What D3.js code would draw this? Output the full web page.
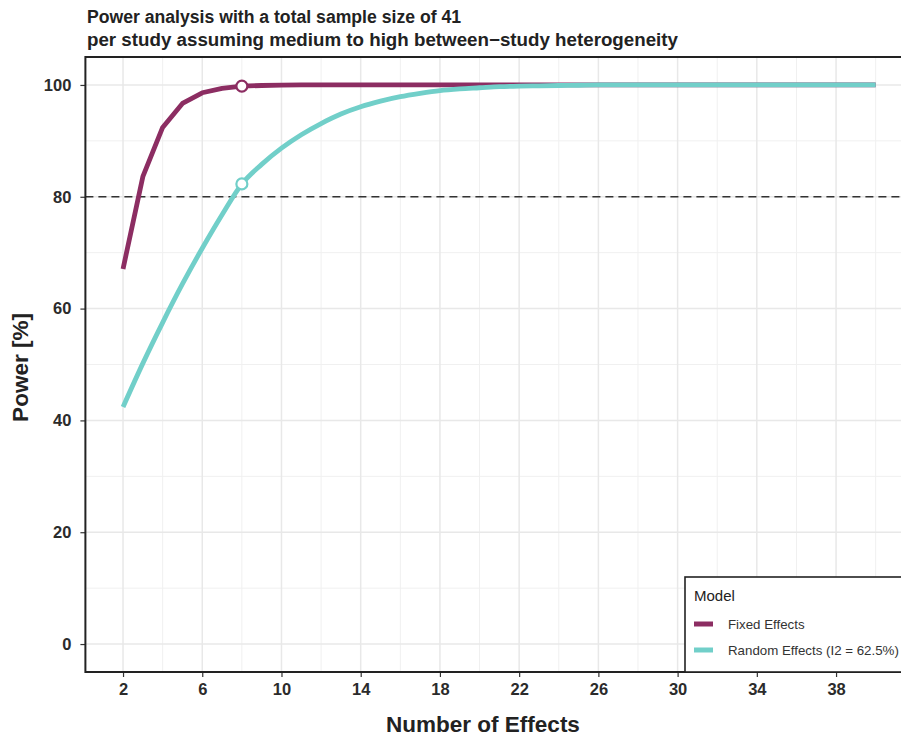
<!DOCTYPE html>
<html><head><meta charset="utf-8">
<script src="https://cdn.jsdelivr.net/npm/d3@7"></script>
<style>body{margin:0;background:#fff}svg{display:block}text{font-family:"Liberation Sans",Arial,sans-serif}</style>
</head><body>
<svg id="c" width="901" height="738"></svg>
<script>
const kValues = d3.range(2, 41);
const fixedPower = [67.1, 83.6, 92.4, 96.7, 98.6, 99.4, 99.8, 99.9, 99.97, 100, 100, 100, 100, 100, 100, 100, 100, 100, 100, 100, 100, 100, 100, 100, 100, 100, 100, 100, 100, 100, 100, 100, 100, 100, 100, 100, 100, 100, 100];
const randomPower = [42.4, 50.2, 57.5, 64.4, 70.8, 76.8, 82.3, 85.8, 88.7, 91.1, 93.1, 94.8, 96.1, 97.1, 97.9, 98.5, 99.0, 99.3, 99.5, 99.7, 99.8, 99.85, 99.9, 99.95, 100, 100, 100, 100, 100, 100, 100, 100, 100, 100, 100, 100, 100, 100, 100];
const xTicks = [2, 6, 10, 14, 18, 22, 26, 30, 34, 38];
const xMinor = [4, 8, 12, 16, 20, 24, 28, 32, 36, 40];
const yTicks = [0, 20, 40, 60, 80, 100];
const yMinor = [10, 30, 50, 70, 90];
const highlightK = 8;
const threshold = 80;
const seriesNames = ["Fixed Effects", "Random Effects (I2 = 62.5%)"];
const seriesColors = ["#8c2d62", "#71cfc9"];
const titleLines = ["Power analysis with a total sample size of 41", "per study assuming medium to high between\u2212study heterogeneity"];

const svg = d3.select("#c");
const L = 85.4, R = 913.3, T = 57, B = 672;
const x = d3.scaleLinear().domain([0.1, 41.9]).range([L, R]);
const y = d3.scaleLinear().domain([-5, 105]).range([B, T]);

const g = svg.append("g");
// grid
g.selectAll(".ymin").data(yMinor).join("line").attr("x1", L).attr("x2", R)
  .attr("y1", d => y(d)).attr("y2", d => y(d)).attr("stroke", "#f0f0f0").attr("stroke-width", 1);
g.selectAll(".xmin").data(xMinor).join("line").attr("y1", T).attr("y2", B)
  .attr("x1", d => x(d)).attr("x2", d => x(d)).attr("stroke", "#f0f0f0").attr("stroke-width", 1);
g.selectAll(".ymaj").data(yTicks).join("line").attr("x1", L).attr("x2", R)
  .attr("y1", d => y(d)).attr("y2", d => y(d)).attr("stroke", "#e8e8e8").attr("stroke-width", 1.5);
g.selectAll(".xmaj").data(xTicks).join("line").attr("y1", T).attr("y2", B)
  .attr("x1", d => x(d)).attr("x2", d => x(d)).attr("stroke", "#e8e8e8").attr("stroke-width", 1.5);

// threshold
g.append("line").attr("x1", L).attr("x2", R).attr("y1", y(threshold)).attr("y2", y(threshold))
  .attr("stroke", "#333").attr("stroke-width", 1.7).attr("stroke-dasharray", "8,5");

const line = d3.line().x((d, i) => x(kValues[i])).y(d => y(d));
g.append("path").datum(fixedPower).attr("d", line).attr("fill", "none")
  .attr("stroke", seriesColors[0]).attr("stroke-width", 4.8).attr("stroke-linejoin", "round");
g.append("path").datum(randomPower).attr("d", line.curve(d3.curveMonotoneX)).attr("fill", "none")
  .attr("stroke", seriesColors[1]).attr("stroke-width", 4.8).attr("stroke-linejoin", "round");

const hi = kValues.indexOf(highlightK);
[[fixedPower, 0], [randomPower, 1]].forEach(([arr, s]) => {
  g.append("circle").attr("cx", x(highlightK)).attr("cy", y(arr[hi])).attr("r", 5.5)
    .attr("fill", "#fff").attr("stroke", seriesColors[s]).attr("stroke-width", 2.2);
});

// axes
const xa = svg.append("g").attr("transform", `translate(0,${B})`)
  .call(d3.axisBottom(x).tickValues(xTicks).tickSize(5).tickPadding(6));
const ya = svg.append("g").attr("transform", `translate(${L},0)`)
  .call(d3.axisLeft(y).tickValues(yTicks).tickSize(5).tickPadding(9));
[xa, ya].forEach(a => {
  a.select(".domain").remove();
  a.selectAll(".tick line").attr("stroke", "#333").attr("stroke-width", 1.2);
  a.selectAll(".tick text").attr("fill", "#2b2b2b").style("font-size", "16.5px").style("font-weight", "bold");
});

// panel border
svg.append("rect").attr("x", L).attr("y", T).attr("width", R - L).attr("height", B - T)
  .attr("fill", "none").attr("stroke", "#222").attr("stroke-width", 2);

// titles
const titleW = [374, 591];
titleLines.forEach((t, i) => {
  svg.append("text").attr("x", 87).attr("y", 23 + i * 23).text(t)
    .attr("textLength", titleW[i]).attr("lengthAdjust", "spacingAndGlyphs")
    .style("font-size", "18px").style("font-weight", "bold").attr("fill", "#222");
});
svg.append("text").attr("x", 483).attr("y", 732).attr("text-anchor", "middle")
  .text("Number of Effects").style("font-size", "22.5px").style("font-weight", "bold").attr("fill", "#222");
svg.append("text").attr("transform", `translate(28,${y(50) + 3}) rotate(-90)`).attr("text-anchor", "middle")
  .text("Power [%]").style("font-size", "22.5px").style("font-weight", "bold").attr("fill", "#222");

// legend
const lg = svg.append("g");
lg.append("rect").attr("x", 685).attr("y", 577).attr("width", 240).attr("height", B - 577)
  .attr("fill", "#fff").attr("stroke", "#222").attr("stroke-width", 1.6);
lg.append("text").attr("x", 694).attr("y", 601).text("Model").style("font-size", "15px").attr("fill", "#222");
seriesNames.forEach((n, i) => {
  const yy = 624 + i * 26;
  lg.append("line").attr("x1", 694).attr("x2", 713).attr("y1", yy).attr("y2", yy)
    .attr("stroke", seriesColors[i]).attr("stroke-width", 5);
  lg.append("text").attr("x", 728).attr("y", yy + 4.5).text(n).style("font-size", "13.3px").attr("fill", "#333");
});
</script>
</body></html>
